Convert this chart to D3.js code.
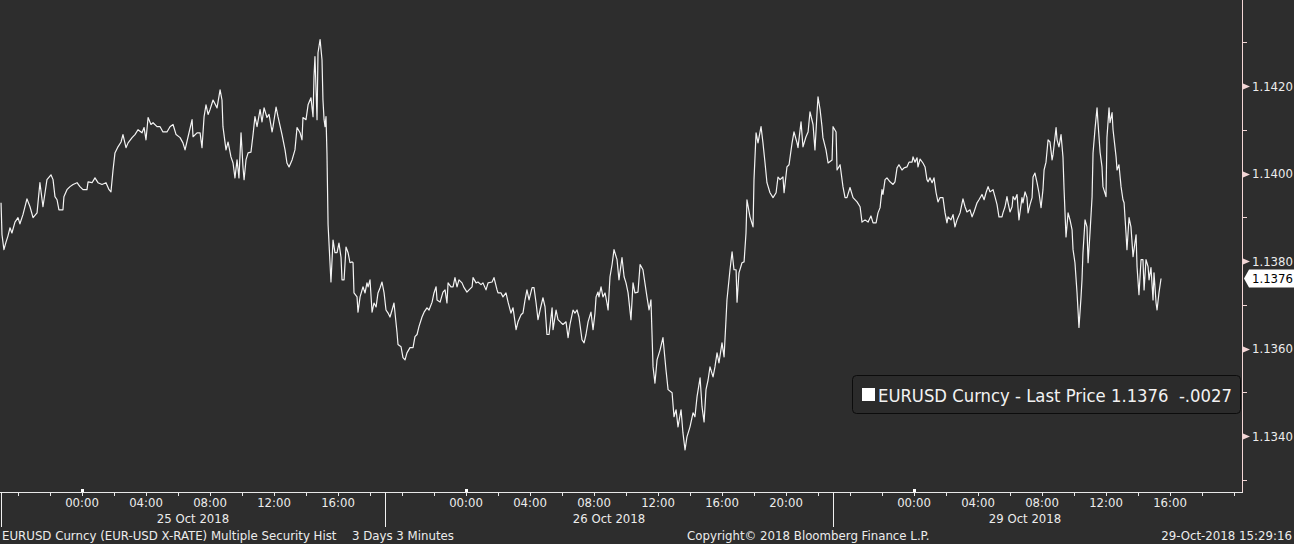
<!DOCTYPE html>
<html><head><meta charset="utf-8">
<script src="https://cdn.jsdelivr.net/npm/d3@7"></script>
<style>
html,body{margin:0;padding:0;background:#2d2d2d;overflow:hidden}
text{font-family:'DejaVu Sans',sans-serif;font-stretch:condensed}
</style>
</head><body>
<svg id="chart" width="1294" height="544"></svg>
<script>
// Trading-clock hours from 25 Oct 2018 00:00 (weekend gap Fri 22:56 -> Sun 18:56 removed)
const thu25 = [[-5.06,1.13933],[-5.00,1.13860],[-4.88,1.13826],[-4.75,1.13843],[-4.63,1.13857],[-4.50,1.13876],[-4.38,1.13864],[-4.19,1.13889],[-4.00,1.13899],[-3.88,1.13885],[-3.69,1.13906],
[-3.44,1.13942],[-3.25,1.13924],[-3.06,1.13899],[-2.81,1.13910],[-2.63,1.13979],[-2.44,1.13924],[-2.31,1.13956],[-2.19,1.13986],[-1.94,1.13997],[-1.81,1.13986],[-1.69,1.13947],[-1.56,1.13940],[-1.44,1.13917],[-1.19,1.13917],[-1.13,1.13947],[-0.94,1.13963],[-0.75,1.13970],[-0.56,1.13975],[-0.31,1.13979],[-0.13,1.13970],
[0.06,1.13963],[0.31,1.13963],[0.38,1.13981],[0.63,1.13979],[0.81,1.13990],[1.00,1.13979],[1.25,1.13975],[1.50,1.13979],[1.69,1.13963],[1.81,1.13958],[1.94,1.14008],[2.06,1.14047],[2.25,1.14061],[2.44,1.14072],[2.56,1.14089],[2.75,1.14059],[2.88,1.14070],[3.13,1.14082],[3.31,1.14089],[3.50,1.14100],[3.75,1.14093],[3.88,1.14105],[4.00,1.14077],[4.13,1.14128],[4.31,1.14112],[4.44,1.14116],[4.69,1.14107],[4.88,1.14107],[5.06,1.14095],[5.31,1.14095],[5.50,1.14107],[5.69,1.14112],[5.88,1.14089],[6.13,1.14082],[6.31,1.14070],[6.44,1.14054],[6.63,1.14084],[6.88,1.14123],[6.94,1.14084],[7.19,1.14093],[7.38,1.14093],[7.50,1.14059],[7.63,1.14130],[7.75,1.14157],[7.88,1.14135],[8.00,1.14146],[8.19,1.14168],[8.44,1.14150],[8.63,1.14191],[8.75,1.14168],[8.81,1.14107],[9.00,1.14054],[9.13,1.14072],[9.31,1.14038],[9.44,1.14024],[9.56,1.13990],[9.69,1.14031],[9.81,1.13990],[9.94,1.14093],[10.06,1.14015],[10.13,1.13986],[10.25,1.14031],[10.38,1.14047],[10.56,1.14049],[10.69,1.14089],[10.81,1.14130],[10.94,1.14107],[11.13,1.14146],[11.25,1.14118],[11.38,1.14150],[11.56,1.14128],[11.69,1.14135],[11.88,1.14095],[11.94,1.14107],[12.13,1.14152],[12.25,1.14130],[12.50,1.14089],[12.69,1.14054],[12.81,1.14024],[12.94,1.14015],[13.13,1.14031],[13.31,1.14054],[13.44,1.14105],[13.63,1.14093],[13.75,1.14077],[13.81,1.14128],[14.00,1.14123],[14.13,1.14157],[14.31,1.14173],[14.44,1.14130],[14.50,1.14221],[14.56,1.14267],[14.69,1.14123],[14.75,1.14276],[14.88,1.14306],[15.00,1.14260],[15.06,1.14168],[15.13,1.14123],[15.19,1.14107],[15.25,1.14130],[15.31,1.14047],[15.38,1.13883],[15.56,1.13752],[15.69,1.13848],[15.81,1.13819],[15.94,1.13819],[16.06,1.13841],[16.19,1.13808],[16.25,1.13757],[16.38,1.13757],[16.50,1.13832],[16.63,1.13819],[16.75,1.13796],[16.88,1.13798],[16.94,1.13796],[17.00,1.13727],[17.19,1.13718],[17.25,1.13683],[17.38,1.13718],[17.56,1.13741],[17.69,1.13727],[17.81,1.13750],[17.88,1.13741],[18.00,1.13757],[18.13,1.13683],[18.25,1.13704],[18.38,1.13695],[18.50,1.13727],[18.63,1.13739],[18.75,1.13752],[18.88,1.13727]];

const fri26 = [[19.00,1.13688],[19.13,1.13681],[19.25,1.13672],[19.38,1.13688],[19.50,1.13704],[19.69,1.13636],[19.75,1.13609],[19.94,1.13604],[20.06,1.13579],[20.19,1.13574],[20.31,1.13590],[20.50,1.13602],[20.69,1.13602],[20.81,1.13627],[20.94,1.13632],[21.06,1.13650],[21.25,1.13672],[21.38,1.13683],[21.56,1.13693],[21.69,1.13688],[21.88,1.13706],[22.00,1.13727],[22.13,1.13741],[22.19,1.13711],[22.38,1.13706],[22.56,1.13729],[22.69,1.13734],[22.81,1.13704],[22.88,1.13750],[23.06,1.13741],[23.19,1.13741],[23.31,1.13762],[23.44,1.13741],[23.56,1.13757],[23.75,1.13750],[23.88,1.13739],[24.06,1.13729],[24.19,1.13734],[24.38,1.13741],[24.44,1.13762],[24.63,1.13750],[24.75,1.13752],[24.94,1.13746],[25.06,1.13750],[25.25,1.13734],[25.38,1.13750],[25.63,1.13752],[25.75,1.13762],[25.94,1.13734],[26.00,1.13727],[26.19,1.13727],[26.31,1.13718],[26.50,1.13727],[26.63,1.13706],[26.81,1.13681],[26.94,1.13693],[27.13,1.13643],[27.25,1.13661],[27.44,1.13677],[27.56,1.13681],[27.69,1.13711],[27.81,1.13734],[27.94,1.13711],[28.13,1.13739],[28.25,1.13739],[28.38,1.13704],[28.50,1.13666],[28.63,1.13688],[28.81,1.13716],[28.94,1.13695],[29.06,1.13632],[29.19,1.13632],[29.38,1.13693],[29.44,1.13643],[29.63,1.13688],[29.75,1.13666],[29.94,1.13659],[30.06,1.13655],[30.25,1.13661],[30.38,1.13625],[30.50,1.13655],[30.69,1.13688],[30.81,1.13681],[30.94,1.13688],[31.06,1.13672],[31.25,1.13620],[31.38,1.13613],[31.50,1.13632],[31.63,1.13661],[31.81,1.13683],[31.94,1.13643],[32.06,1.13681],[32.13,1.13718],[32.25,1.13729],[32.31,1.13718],[32.44,1.13741],[32.56,1.13718],[32.69,1.13727],[32.81,1.13704],[32.88,1.13688],[33.00,1.13764],[33.13,1.13792],[33.25,1.13826],[33.44,1.13803],[33.56,1.13757],[33.75,1.13808],[33.88,1.13764],[34.00,1.13750],[34.13,1.13727],[34.31,1.13666],[34.44,1.13750],[34.56,1.13727],[34.75,1.13729],[34.88,1.13792],[35.06,1.13780],[35.31,1.13718],[35.44,1.13688],[35.56,1.13711],[35.69,1.13558],[35.81,1.13521],[35.94,1.13574],[36.13,1.13597],[36.31,1.13625],[36.50,1.13551],[36.63,1.13506],[36.88,1.13499],[37.00,1.13444],[37.13,1.13460],[37.25,1.13421],[37.44,1.13460],[37.56,1.13407],[37.69,1.13368],[37.81,1.13398],[38.00,1.13421],[38.19,1.13453],[38.31,1.13444],[38.44,1.13490],[38.63,1.13533],[38.75,1.13467],[38.88,1.13432],[39.00,1.13506],[39.13,1.13528],[39.25,1.13558],[39.44,1.13535],[39.56,1.13558],[39.69,1.13590],[39.81,1.13567],[40.00,1.13613],[40.13,1.13581],[40.25,1.13666],[40.31,1.13711],[40.50,1.13780],[40.63,1.13821],[40.75,1.13780],[40.88,1.13780],[40.94,1.13706],[41.06,1.13773],[41.25,1.13796],[41.38,1.13798],[41.50,1.13864],[41.56,1.13940],[41.75,1.13901],[41.94,1.13878],[42.00,1.13986],[42.13,1.14093],[42.25,1.14070],[42.44,1.14107],[42.56,1.14070],[42.69,1.14024],[42.81,1.13979],[43.00,1.13956],[43.19,1.13945],[43.38,1.13956],[43.50,1.13992],[43.63,1.13986],[43.81,1.13992],[43.88,1.13956],[44.06,1.14015],[44.19,1.14020],[44.38,1.14070],[44.50,1.14095],[44.69,1.14070],[44.75,1.14059],[44.94,1.14118],[45.06,1.14061],[45.25,1.14084],[45.38,1.14095],[45.50,1.14141],[45.69,1.14112],[45.81,1.14054],[45.94,1.14139],[46.00,1.14175],[46.13,1.14146],[46.25,1.14107],[46.31,1.14082],[46.50,1.14054],[46.63,1.14024],[46.88,1.14031]];

const mon29 = [[46.94,1.14107],[47.13,1.14095],[47.19,1.14008],[47.38,1.14020],[47.56,1.13970],[47.69,1.13945],[47.81,1.13945],[48.00,1.13968],[48.19,1.13945],[48.44,1.13935],[48.63,1.13924],[48.75,1.13889],[48.94,1.13894],[49.13,1.13889],[49.31,1.13903],[49.44,1.13887],[49.63,1.13887],[49.75,1.13910],[49.88,1.13922],[50.00,1.13963],[50.06,1.13952],[50.19,1.13986],[50.31,1.13990],[50.50,1.13981],[50.69,1.13975],[50.81,1.13981],[50.94,1.14013],[51.06,1.14020],[51.25,1.14008],[51.38,1.14013],[51.56,1.14015],[51.69,1.14026],[51.88,1.14026],[51.94,1.14038],[52.06,1.14026],[52.19,1.14036],[52.25,1.14015],[52.38,1.14033],[52.56,1.14024],[52.69,1.14015],[52.81,1.13986],[52.88,1.13981],[53.00,1.13990],[53.13,1.13979],[53.25,1.13990],[53.38,1.13956],[53.50,1.13935],[53.63,1.13945],[53.81,1.13945],[53.94,1.13910],[54.06,1.13887],[54.13,1.13901],[54.31,1.13894],[54.44,1.13906],[54.56,1.13878],[54.69,1.13894],[54.88,1.13910],[55.06,1.13942],[55.19,1.13924],[55.31,1.13912],[55.50,1.13917],[55.63,1.13901],[55.75,1.13912],[55.94,1.13933],[56.06,1.13940],[56.25,1.13952],[56.38,1.13940],[56.50,1.13956],[56.63,1.13970],[56.75,1.13958],[56.94,1.13963],[57.06,1.13947],[57.19,1.13929],[57.31,1.13901],[57.50,1.13901],[57.56,1.13910],[57.69,1.13924],[57.81,1.13947],[57.88,1.13933],[58.00,1.13912],[58.13,1.13924],[58.19,1.13947],[58.31,1.13940],[58.44,1.13952],[58.50,1.13922],[58.56,1.13894],[58.75,1.13945],[58.81,1.13933],[58.94,1.13958],[59.06,1.13945],[59.13,1.13910],[59.25,1.13929],[59.38,1.13945],[59.44,1.13992],[59.56,1.14001],[59.69,1.13979],[59.81,1.13956],[59.94,1.13922],[60.06,1.13963],[60.13,1.14008],[60.25,1.14026],[60.38,1.14077],[60.50,1.14072],[60.63,1.14031],[60.69,1.14043],[60.81,1.14082],[60.88,1.14105],[60.94,1.14077],[61.06,1.14061],[61.19,1.14089],[61.31,1.14038],[61.38,1.13963],[61.50,1.13855],[61.63,1.13910],[61.75,1.13894],[61.88,1.13871],[61.94,1.13826],[62.06,1.13796],[62.19,1.13727],[62.25,1.13688],[62.31,1.13648],[62.44,1.13718],[62.50,1.13757],[62.56,1.13819],[62.69,1.13894],[62.81,1.13878],[62.88,1.13796],[63.00,1.13864],[63.13,1.13947],[63.19,1.14047],[63.31,1.14100],[63.44,1.14150],[63.50,1.14116],[63.63,1.14049],[63.75,1.14015],[63.81,1.13970],[64.00,1.13947],[64.06,1.14082],[64.19,1.14150],[64.25,1.14116],[64.38,1.14139],[64.44,1.14100],[64.56,1.14061],[64.63,1.14038],[64.69,1.14008],[64.81,1.14020],[64.94,1.13970],[65.06,1.13940],[65.13,1.13933],[65.25,1.13864],[65.31,1.13826],[65.44,1.13899],[65.56,1.13878],[65.69,1.13810],[65.75,1.13826],[65.88,1.13860],[65.94,1.13787],[66.06,1.13723],[66.19,1.13803],[66.31,1.13803],[66.38,1.13734],[66.50,1.13803],[66.63,1.13787],[66.69,1.13757],[66.81,1.13785],[66.94,1.13711],[67.00,1.13773],[67.13,1.13704],[67.19,1.13688],[67.31,1.13727],[67.44,1.13760]];

const yMajor = [1.1340, 1.1360, 1.1380, 1.1400, 1.1420];
const yMinor = [1.1330, 1.1350, 1.1370, 1.1390, 1.1410, 1.1430];
const sessions = [
  {label:"25 Oct 2018", start:-5.0625, end:18.9375, midnight:0},
  {label:"26 Oct 2018", start:18.9375, end:46.9375, midnight:24},
  {label:"29 Oct 2018", start:46.9375, end:70.9375, midnight:52}
];
const lastPrice = 1.1376;
const netChange = "-.0027";
const legendName = "EURUSD Curncy - Last Price";
const footerLeft = "EURUSD Curncy (EUR-USD X-RATE) Multiple Security Hist";
const footerRange = "3 Days 3 Minutes";
const footerCopy = "Copyright\u00A9 2018 Bloomberg Finance L.P.";
const footerStamp = "29-Oct-2018 15:29:16";

const svg = d3.select("#chart");
const axisX = 1242, axisY = 492;
const x = d3.scaleLinear().domain([-5.125, 72.5]).range([0, axisX]);
const y = d3.scaleLinear().domain([1.1340, 1.1420]).range([436, 86]);

const txt = "#ececec";
const pink = "#f3d6d6";

svg.append("rect").attr("width",1294).attr("height",544).attr("fill","#2d2d2d");

// price line
const data = thu25.concat(fri26, mon29);
svg.append("path").datum(data)
  .attr("fill","none").attr("stroke","#f4f4f4").attr("stroke-width",1.2)
  .attr("stroke-linejoin","round")
  .attr("d", d3.line().x(d=>x(d[0])).y(d=>y(d[1])));

// right axis
svg.append("line").attr("x1",axisX+0.5).attr("x2",axisX+0.5).attr("y1",0).attr("y2",axisY+0.5)
  .attr("stroke",pink).attr("stroke-width",1);
svg.selectAll(".ymin").data(yMinor).join("line")
  .attr("x1",axisX+1).attr("x2",axisX+5)
  .attr("y1",d=>Math.round(y(d))+0.5).attr("y2",d=>Math.round(y(d))+0.5)
  .attr("stroke",pink);
svg.selectAll(".ymaj").data(yMajor).join("path")
  .attr("d",d=>{const yy=Math.round(y(d))+0.5;return `M${axisX+1},${yy-3}L${axisX+8},${yy}L${axisX+1},${yy+3}Z`;})
  .attr("fill",pink);
svg.selectAll(".ylab").data(yMajor).join("text")
  .attr("x",axisX+10).attr("y",d=>y(d)+4.5)
  .attr("fill",txt).attr("font-size",13)
  .text(d=>d.toFixed(4));

// bottom axis
svg.append("line").attr("x1",0).attr("x2",axisX+1).attr("y1",axisY+0.5).attr("y2",axisY+0.5)
  .attr("stroke","#e8e8e8");
const hourTicks = d3.range(-4, 73, 2);
svg.selectAll(".xt").data(hourTicks).join("line")
  .attr("x1",d=>Math.round(x(d))+0.5).attr("x2",d=>Math.round(x(d))+0.5)
  .attr("y1",axisY+1).attr("y2",axisY+4).attr("stroke","#e8e8e8");
svg.selectAll(".mid").data(sessions).join("rect")
  .attr("x",d=>Math.round(x(d.midnight))-1).attr("y",axisY-3).attr("width",3).attr("height",3)
  .attr("fill","#ffffff");
svg.selectAll(".sep").data(sessions).join("line")
  .attr("x1",d=>Math.round(x(d.start))+0.5).attr("x2",d=>Math.round(x(d.start))+0.5)
  .attr("y1",axisY).attr("y2",axisY+35).attr("stroke","#f0f0f0");

const labelled = [];
hourTicks.forEach(t=>{
  const s = sessions.find(s=>t>=s.start && t<s.end);
  if(!s) return;
  const h = t - s.midnight;
  if(h>=0 && h<24 && h%4===0) labelled.push({t, text:String(h).padStart(2,"0")+":00"});
});
svg.selectAll(".xl").data(labelled).join("text")
  .attr("x",d=>x(d.t)).attr("y",507).attr("text-anchor","middle")
  .attr("fill",txt).attr("font-size",13).text(d=>d.text);
svg.selectAll(".dl").data(sessions).join("text")
  .attr("x",d=>(x(d.start)+x(d.end))/2).attr("y",523).attr("text-anchor","middle")
  .attr("fill",txt).attr("font-size",13).text(d=>d.label);

// footer
const foot = [
  {t:footerLeft, x:2, a:"start"},
  {t:footerRange, x:352, a:"start"},
  {t:footerCopy, x:687, a:"start"},
  {t:footerStamp, x:1292, a:"end"}
];
svg.selectAll(".ft").data(foot).join("text")
  .attr("x",d=>d.x).attr("y",540).attr("text-anchor",d=>d.a)
  .attr("fill",txt).attr("font-size",13.1).text(d=>d.t);

// legend
const lg = svg.append("g");
lg.append("rect").attr("x",852.5).attr("y",375.5).attr("width",388).attr("height",38).attr("rx",4)
  .attr("fill","#2b2b2b").attr("stroke","#0c0c0c");
lg.append("rect").attr("x",862).attr("y",388).attr("width",13).attr("height",13).attr("fill","#ffffff");
lg.append("text").attr("x",878).attr("y",402).attr("fill","#f2f2f2").attr("font-size",18.3)
  .attr("xml:space","preserve")
  .text(`${legendName} ${lastPrice.toFixed(4)}  ${netChange}`);

// last price tag
const ly = Math.round(y(lastPrice))+0.5;
svg.append("path")
  .attr("d",`M${axisX+2},${ly}L${axisX+7},${ly-9}L1294,${ly-9}L1294,${ly+9}L${axisX+7},${ly+9}Z`)
  .attr("fill","#ffffff");
svg.append("text").attr("x",axisX+10).attr("y",ly+4.5).attr("fill","#000000").attr("font-size",13)
  .text(lastPrice.toFixed(4));
</script>
</body></html>
